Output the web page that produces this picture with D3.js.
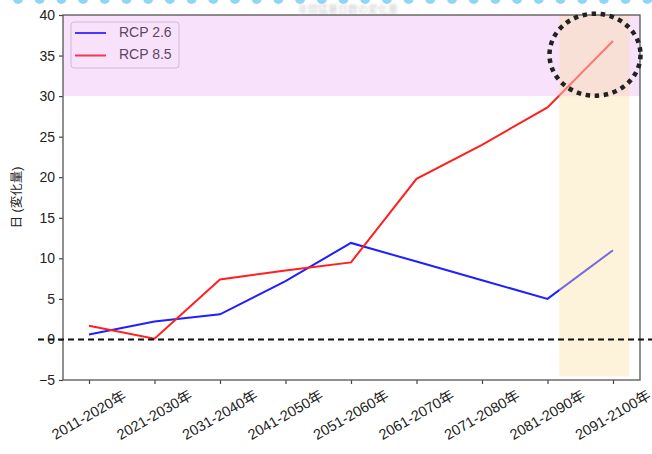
<!DOCTYPE html>
<head>
  <meta charset="utf-8">
  <title>RCP</title>
  <style>
      body { margin: 0; background: #fff; }
      text { font-family: "Liberation Sans", "Noto Sans CJK JP", sans-serif; }
  </style>
  <script src="https://d3js.org/d3.v7.js"></script>
</head>
<body>
<div id="chart"></div>
<script>
    // data
    const periods = ["2011-2020年", "2021-2030年", "2031-2040年", "2041-2050年", "2051-2060年",
        "2061-2070年", "2071-2080年", "2081-2090年", "2091-2100年"];
    const rcp26 = [0.6, 2.2, 3.1, 7.2, 11.9, 9.6, 7.3, 5.0, 11.0];
    const rcp85 = [1.7, 0.1, 7.4, 8.5, 9.5, 19.8, 24.0, 28.6, 36.8];
    const yTicks = [-5, 0, 5, 10, 15, 20, 25, 30, 35, 40];
    const seriesNames = ["RCP 2.6", "RCP 8.5"];
    const seriesColors = ["#1f1fff", "#ff1f1f"];

    const W = 652, H = 454;
    const margin = {top: 15, right: 12, bottom: 74, left: 63};
    const width = W - margin.left - margin.right;
    const height = H - margin.top - margin.bottom;

    const root = d3.select("#chart").append("svg")
        .attr("width", W).attr("height", H);

    // light blue dots along the top edge
    root.append("g").selectAll("circle")
        .data(d3.range(0, 31))
        .join("circle")
        .attr("cx", d => 18 + d * 21.7)
        .attr("cy", -1)
        .attr("r", 5)
        .attr("fill", "#8fd6f6");

    // faint title, barely visible
    const defs = root.append("defs");
    defs.append("filter").attr("id", "blur")
        .append("feGaussianBlur").attr("stdDeviation", 1);
    root.append("text")
        .attr("x", 348).attr("y", 13)
        .attr("text-anchor", "middle")
        .style("font-size", "10px")
        .attr("fill", "#888")
        .attr("opacity", 0.4)
        .attr("filter", "url(#blur)")
        .text("年間猛暑日数の変化量");

    const svg = root.append("g")
        .attr("transform", `translate(${margin.left}, ${margin.top})`);

    const x = d3.scalePoint()
        .domain(periods)
        .range([26, width - 27]);
    const step = x.step();

    const y = d3.scaleLinear()
        .domain([-5, 40])
        .range([height, 0]);

    // x axis
    const xAxis = svg.append("g")
        .attr("transform", `translate(0, ${height})`)
        .call(d3.axisBottom(x).tickSize(4).tickPadding(0));
    xAxis.select(".domain").remove();
    xAxis.selectAll("line").attr("stroke", "#444").attr("stroke-width", 1.2);
    xAxis.selectAll("text")
        .attr("y", 0).attr("dy", null)
        .attr("transform", "translate(0, 36) rotate(-30)")
        .attr("dominant-baseline", "middle")
        .style("text-anchor", "middle")
        .style("font-size", "14.5px")
        .attr("fill", "#222");

    // y axis
    const yAxis = svg.append("g")
        .call(d3.axisLeft(y).tickValues(yTicks).tickSize(4).tickPadding(4));
    yAxis.select(".domain").remove();
    yAxis.selectAll("line").attr("stroke", "#444").attr("stroke-width", 1.2);
    yAxis.selectAll("text")
        .style("font-size", "14px")
        .attr("fill", "#222");

    root.append("text")
        .attr("transform", `translate(18, ${margin.top + height / 2}) rotate(-90)`)
        .attr("text-anchor", "middle")
        .attr("dominant-baseline", "middle")
        .style("font-size", "12.5px")
        .attr("fill", "#222")
        .text("日 (変化量)");

    // lines
    const line = d3.line()
        .x((d, i) => x(periods[i]))
        .y(d => y(d));

    [rcp26, rcp85].forEach((s, k) => {
        svg.append("path")
            .datum(s)
            .attr("fill", "none")
            .attr("stroke", seriesColors[k])
            .attr("stroke-width", 2)
            .attr("d", line);
    });

    // zero reference line, runs past the axes
    root.append("line")
        .attr("x1", 38).attr("x2", W)
        .attr("y1", margin.top + y(0)).attr("y2", margin.top + y(0))
        .attr("stroke", "#111")
        .attr("stroke-width", 2)
        .attr("stroke-dasharray", "6 4");

    // legend
    const legend = svg.append("g").attr("transform", "translate(8, 7)");
    legend.append("rect")
        .attr("width", 108).attr("height", 46)
        .attr("rx", 3)
        .attr("fill", "#fff").attr("fill-opacity", 0.8)
        .attr("stroke", "#ccc");
    seriesNames.forEach((name, k) => {
        const g = legend.append("g").attr("transform", `translate(0, ${11 + k * 22.5})`);
        g.append("line")
            .attr("x1", 4).attr("x2", 35)
            .attr("stroke", seriesColors[k]).attr("stroke-width", 2);
        g.append("text")
            .attr("x", 48)
            .attr("dominant-baseline", "middle")
            .style("font-size", "14px")
            .attr("fill", "#333")
            .text(name);
    });

    // highlight bands drawn on top
    svg.append("rect")
        .attr("x", 0).attr("y", y(40))
        .attr("width", width).attr("height", y(30) - y(40))
        .attr("fill", "rgb(225, 130, 240)")
        .attr("fill-opacity", 0.24);

    svg.append("rect")
        .attr("x", x(periods[7]) + step * 0.18)
        .attr("y", y(40))
        .attr("width", step * 1.07)
        .attr("height", y(-4.55) - y(40))
        .attr("fill", "rgb(250, 222, 163)")
        .attr("fill-opacity", 0.4);

    // frame
    svg.append("rect")
        .attr("width", width).attr("height", height)
        .attr("fill", "none")
        .attr("stroke", "#555")
        .attr("stroke-width", 1.3);

    // dotted circle around the last RCP 8.5 value
    svg.append("ellipse")
        .attr("cx", x(periods[8]) - 18)
        .attr("cy", y(35.1))
        .attr("rx", 45.5).attr("ry", 41)
        .attr("fill", "none")
        .attr("stroke", "#222")
        .attr("stroke-width", 4.5)
        .attr("stroke-dasharray", "4.5 4.6");
</script>
</body>
